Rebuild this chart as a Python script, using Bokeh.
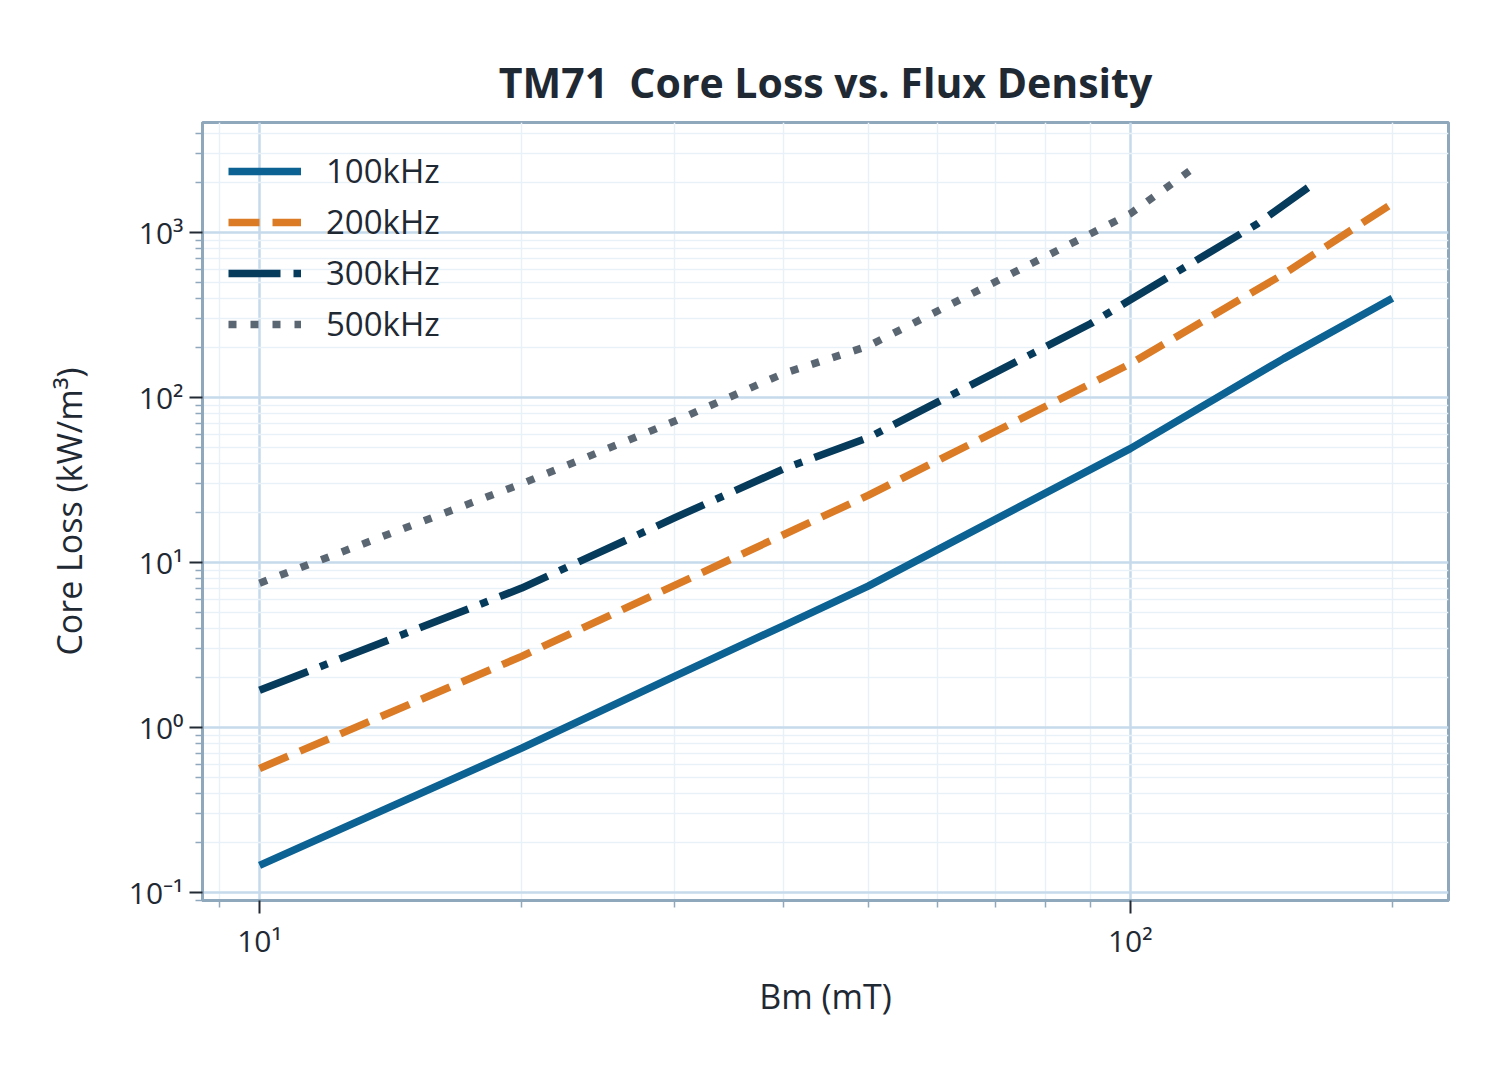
from bokeh.plotting import figure
from bokeh.models import FixedTicker, CustomJSTickFormatter, Legend, LegendItem, Range1d
from bokeh.embed import file_html
from bokeh.resources import INLINE

# ---- data ----
bm_100 = [10, 20, 30, 40, 50, 100, 150, 200]
loss_100 = [0.146, 0.75, 2.05, 4.15, 7.2, 49, 172, 400]
bm_200 = [10, 20, 50, 100, 150, 200]
loss_200 = [0.565, 2.7, 25.5, 160, 560, 1500]
bm_300 = [10, 20, 30, 40, 50, 90, 140, 160]
loss_300 = [1.68, 7.0, 18.7, 37, 57, 280, 1130, 1870]
bm_500 = [10, 20, 30, 40, 50, 100, 120]
loss_500 = [7.5, 30, 72, 140, 205, 1300, 2600]

series_names = ["100kHz", "200kHz", "300kHz", "500kHz"]

x_major = [10, 100]
x_minor = [9, 20, 30, 40, 50, 60, 70, 80, 90, 200]
y_major = [0.1, 1, 10, 100, 1000]
y_minor = [m * d for d in [0.01, 0.1, 1, 10, 100, 1000] for m in range(2, 10)]

FONT = "Open Sans"
TEXT = "#1f2933"
FRAME = "#90a8bc"

p = figure(width=1500, height=1065, x_axis_type="log", y_axis_type="log",
           x_range=Range1d(8.6, 232), y_range=Range1d(0.0895, 4640),
           output_backend="svg", toolbar_location=None,
           min_border_left=202, min_border_right=52, min_border_top=122, min_border_bottom=165,
           background_fill_color="white", border_fill_color="white")

p.title.text = "TM71\u00a0\u00a0Core Loss vs. Flux Density"
p.title.align = "center"
p.title.text_font = FONT
p.title.text_font_size = "41px"
p.title.text_font_style = "bold"
p.title.text_color = TEXT
p.title.standoff = 26

p.outline_line_color = FRAME
p.outline_line_width = 3

for ax in (p.xaxis[0], p.yaxis[0]):
    ax.axis_line_color = FRAME
    ax.axis_line_width = 3
    ax.major_tick_line_color = "#222a33"
    ax.major_tick_line_width = 2
    ax.minor_tick_line_color = FRAME
    ax.minor_tick_line_width = 1.5
    ax.major_tick_out = 13
    ax.major_tick_in = 0
    ax.minor_tick_out = 7
    ax.minor_tick_in = 0
    ax.major_label_text_font = FONT
    ax.major_label_text_font_size = "30px"
    ax.major_label_text_color = TEXT
    ax.axis_label_text_font = FONT
    ax.axis_label_text_font_size = "34px"
    ax.axis_label_text_font_style = "normal"
    ax.axis_label_text_color = TEXT
    ax.major_label_standoff = 6

fmt = CustomJSTickFormatter(code="""
const sup = {"-":"\u207b","0":"\u2070","1":"\u00b9","2":"\u00b2","3":"\u00b3","4":"\u2074",
             "5":"\u2075","6":"\u2076","7":"\u2077","8":"\u2078","9":"\u2079"};
const e = Math.round(Math.log10(tick));
return "10" + String(e).split("").map(c => sup[c]).join("");
""")

p.xaxis[0].ticker = FixedTicker(ticks=x_major, minor_ticks=x_minor)
p.yaxis[0].ticker = FixedTicker(ticks=y_major, minor_ticks=y_minor)
p.xaxis[0].formatter = fmt
p.yaxis[0].formatter = fmt
p.xaxis[0].axis_label = "Bm (mT)"
p.yaxis[0].axis_label = "Core Loss (kW/m\u00b3)"
p.xaxis[0].axis_label_standoff = 9
p.yaxis[0].axis_label_standoff = 34

for g in (p.xgrid[0], p.ygrid[0]):
    g.grid_line_color = "#c6daeb"
    g.grid_line_width = 2.5
    g.minor_grid_line_color = "#e9f1f8"
    g.minor_grid_line_width = 1.5

r100 = p.line(bm_100, loss_100, line_color="#0b6293", line_width=7.5)
r200 = p.line(bm_200, loss_200, line_color="#db7b25", line_width=7.5, line_dash="31 13")
r300 = p.line(bm_300, loss_300, line_color="#063b5c", line_width=7.5, line_dash="52 13 8 13")
r500 = p.line(bm_500, loss_500, line_color="#5b6673", line_width=7.5, line_dash="8 14")

legend = Legend(items=[LegendItem(label=n, renderers=[r]) for n, r in
                       zip(series_names, [r100, r200, r300, r500])],
                location="top_left")
legend.background_fill_alpha = 0
legend.border_line_alpha = 0
legend.margin = 0
legend.padding = 26
legend.glyph_width = 73
legend.glyph_height = 40
legend.label_height = 40
legend.spacing = 6
legend.label_standoff = 25
legend.label_text_font = FONT
legend.label_text_font_size = "33px"
legend.label_text_color = TEXT
p.add_layout(legend)

open("out.html", "w").write(file_html(p, INLINE))
